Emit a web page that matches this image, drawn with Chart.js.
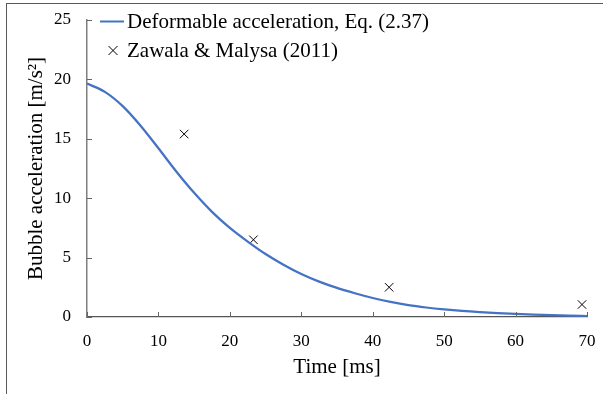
<!DOCTYPE html>
<html>
<head>
<meta charset="utf-8">
<script src="https://cdn.jsdelivr.net/npm/chart.js@4/dist/chart.umd.min.js"></script>
<style>
  body { margin: 0; background: #fff; }
  #wrap { position: relative; width: 603px; height: 394px; overflow: hidden; }
  #frame { position: absolute; left: 6px; top: 3px; width: 700px; height: 500px; border: 1px solid #595959; box-sizing: border-box; }
  canvas { position: absolute; left: 0; top: 0; }
</style>
</head>
<body>
<div id="wrap">
  <div id="frame"></div>
  <canvas id="chart" width="603" height="394"></canvas>
</div>
<script>
// model curve, Eq. (2.37)
const modelTime = [0, 2.5, 5, 7.5, 10, 12.5, 15, 17.5, 20, 22.5, 25, 27.5, 30, 32.5, 35, 37.5, 40, 42.5, 45, 47.5, 50, 52.5, 55, 57.5, 60, 62.5, 65, 67.5, 70];
const modelAccel = [19.65, 18.95, 17.75, 16.1, 14.2, 12.25, 10.45, 8.85, 7.5, 6.35, 5.3, 4.4, 3.62, 2.98, 2.45, 2.0, 1.6, 1.27, 1.0, 0.8, 0.64, 0.51, 0.41, 0.33, 0.26, 0.2, 0.15, 0.11, 0.08];

// measurements, Zawala & Malysa (2011)
const expTime = [13.6, 23.3, 42.3, 69.3];
const expAccel = [15.4, 6.5, 2.5, 1.05];

const xTicks = [0, 10, 20, 30, 40, 50, 60, 70];
const yTicks = [0, 5, 10, 15, 20, 25];

const FONT = "'Liberation Serif', 'Times New Roman', serif";
const BLUE = "#4472C4";

// short tick marks drawn inside the plot area
const innerTicks = {
  id: "innerTicks",
  afterDatasetsDraw(chart) {
    const ctx = chart.ctx;
    const xs = chart.scales.x, ys = chart.scales.y;
    const area = chart.chartArea;
    ctx.save();
    ctx.strokeStyle = "#666";
    ctx.lineWidth = 1;
    xTicks.forEach(v => {
      const px = Math.round(xs.getPixelForValue(v)) + 0.5;
      ctx.beginPath();
      ctx.moveTo(px, area.bottom);
      ctx.lineTo(px, area.bottom - 5);
      ctx.stroke();
    });
    yTicks.forEach(v => {
      const py = Math.round(ys.getPixelForValue(v)) + 0.5;
      ctx.beginPath();
      ctx.moveTo(area.left, py);
      ctx.lineTo(area.left + 5, py);
      ctx.stroke();
    });
    ctx.restore();
  }
};

// legend sitting in the top-left corner of the plot
const cornerLegend = {
  id: "cornerLegend",
  afterDraw(chart) {
    const ctx = chart.ctx;
    const sets = chart.data.datasets;
    ctx.save();
    ctx.font = "21px " + FONT;
    ctx.fillStyle = "#000";
    ctx.textBaseline = "middle";
    ctx.textAlign = "left";

    // line entry
    ctx.strokeStyle = sets[0].borderColor;
    ctx.lineWidth = 2;
    ctx.beginPath();
    ctx.moveTo(100, 21.5);
    ctx.lineTo(124, 21.5);
    ctx.stroke();
    ctx.fillText(sets[0].label, 127, 22);

    // marker entry
    ctx.strokeStyle = "#000";
    ctx.lineWidth = 1;
    const cx = 113, cy = 50.5, r = 4.5;
    ctx.beginPath();
    ctx.moveTo(cx - r, cy - r); ctx.lineTo(cx + r, cy + r);
    ctx.moveTo(cx + r, cy - r); ctx.lineTo(cx - r, cy + r);
    ctx.stroke();
    ctx.fillText(sets[1].label, 127, 51);
    ctx.restore();
  }
};

new Chart(document.getElementById("chart"), {
  type: "line",
  data: {
    datasets: [
      {
        label: "Deformable acceleration, Eq. (2.37)",
        data: modelTime.map((t, i) => ({ x: t, y: modelAccel[i] })),
        borderColor: BLUE,
        borderWidth: 2.25,
        pointRadius: 0,
        cubicInterpolationMode: "monotone",
        fill: false
      },
      {
        label: "Zawala & Malysa (2011)",
        data: expTime.map((t, i) => ({ x: t, y: expAccel[i] })),
        showLine: false,
        pointStyle: "crossRot",
        pointRadius: 6,
        borderColor: "#000",
        borderWidth: 1,
        backgroundColor: "#000"
      }
    ]
  },
  options: {
    responsive: false,
    animation: false,
    layout: { padding: { top: 20, right: 16, left: 0, bottom: 0 } },
    plugins: { legend: { display: false }, tooltip: { enabled: false } },
    scales: {
      x: {
        type: "linear",
        min: 0, max: 70,
        afterFit: s => {
          s.height = 77;
          s.paddingLeft = 0; s.paddingRight = 0;
        },
        afterBuildTicks: s => { s.ticks = xTicks.map(v => ({ value: v })); },
        grid: { display: false, drawTicks: false },
        border: { display: true, color: "#555", width: 1.2 },
        ticks: { color: "#000", padding: 14, maxRotation: 0, font: { family: FONT, size: 17 } },
        title: {
          display: true, text: "Time [ms]", color: "#000",
          font: { family: FONT, size: 21 },
          padding: { top: 0, bottom: 14 }
        }
      },
      y: {
        min: 0, max: 25,
        afterFit: s => {
          s.width = 87;
          s.paddingTop = 0; s.paddingBottom = 0;
        },
        afterBuildTicks: s => { s.ticks = yTicks.map(v => ({ value: v })); },
        grid: { display: false, drawTicks: false },
        border: { display: true, color: "#7f7f7f", width: 1.5 },
        ticks: { color: "#000", padding: 16, font: { family: FONT, size: 17 } },
        title: {
          display: true, text: "Bubble acceleration [m/s²]", color: "#000",
          font: { family: FONT, size: 21 },
          padding: { top: 24, bottom: 0 }
        }
      }
    }
  },
  plugins: [innerTicks, cornerLegend]
});
</script>
</body>
</html>
